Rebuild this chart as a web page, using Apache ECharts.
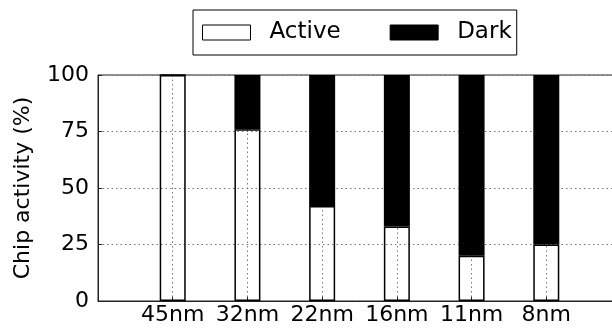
<!DOCTYPE html>
<html><head><meta charset="utf-8">
<script src="https://cdn.jsdelivr.net/npm/echarts@6/dist/echarts.min.js"></script>
<style>html,body{margin:0;padding:0;background:#fff}#c{width:612px;height:329px}</style>
</head><body><div id="c"></div>
<script>
var categories = ['45nm', '32nm', '22nm', '16nm', '11nm', '8nm'];
var activeValues = [100, 76, 42, 33, 20, 25];
var darkValues = [0, 24, 58, 67, 80, 75];
var yTicks = [0, 25, 50, 75, 100];

// one empty slot on each side of the categories (axis margin as in the original plot)
var axisCats = [''].concat(categories, ['']);
function pad(arr) { return ['-'].concat(arr, ['-']); }

var FONT = 'DejaVu Sans';
var FS = 22;
var chart = echarts.init(document.getElementById('c'), null, {renderer: 'canvas'});
var gridLine = {show: true, lineStyle: {color: '#777', type: [1.5, 3], width: 1}};
chart.setOption({
  animation: false,
  backgroundColor: '#fff',
  textStyle: {fontFamily: FONT},
  legend: {
    left: 193, top: 10,
    padding: [11, 5, 11, 9],
    borderColor: '#000', borderWidth: 1,
    itemWidth: 48, itemHeight: 15, itemGap: 49,
    icon: 'rect',
    textStyle: {fontFamily: FONT, fontSize: 23, color: '#000', padding: [0, 0, 0, 14]},
    data: [
      {name: 'Active', itemStyle: {color: '#fff', borderColor: '#000', borderWidth: 1}},
      {name: 'Dark', itemStyle: {color: '#000', borderColor: '#000', borderWidth: 1}}
    ]
  },
  grid: {left: 98, top: 75, width: 523, bottom: 28, outerBoundsMode: 'none', containLabel: false,
         show: true, borderColor: '#222', borderWidth: 1},
  xAxis: [{
    type: 'category', data: axisCats, boundaryGap: false,
    axisLine: {show: true, lineStyle: {color: '#222'}},
    axisTick: {show: true, inside: true, length: 4, lineStyle: {color: '#222'}},
    axisLabel: {fontFamily: FONT, fontSize: FS, color: '#000', margin: 3, interval: 0},
    splitLine: gridLine
  }],
  yAxis: [{
    type: 'value', min: yTicks[0], max: yTicks[yTicks.length - 1], interval: 25,
    name: 'Chip activity (%)', nameLocation: 'middle', nameGap: 64,
    nameTextStyle: {fontFamily: FONT, fontSize: FS, color: '#000'},
    axisLine: {show: true, lineStyle: {color: '#222'}},
    axisTick: {show: true, inside: true, length: 4, lineStyle: {color: '#222'}},
    axisLabel: {fontFamily: FONT, fontSize: FS, color: '#000', margin: 9},
    splitLine: gridLine
  }],
  series: [
    {
      name: 'Active', type: 'bar', stack: 's', barWidth: 26,
      itemStyle: {color: 'rgba(255,255,255,0)', borderColor: '#000', borderWidth: 1.5},
      data: pad(activeValues)
    },
    {
      name: 'Dark', type: 'bar', stack: 's', barWidth: 26,
      itemStyle: {color: '#000', borderColor: '#000', borderWidth: 1.5},
      data: pad(darkValues)
    }
  ]
});
</script></body></html>
